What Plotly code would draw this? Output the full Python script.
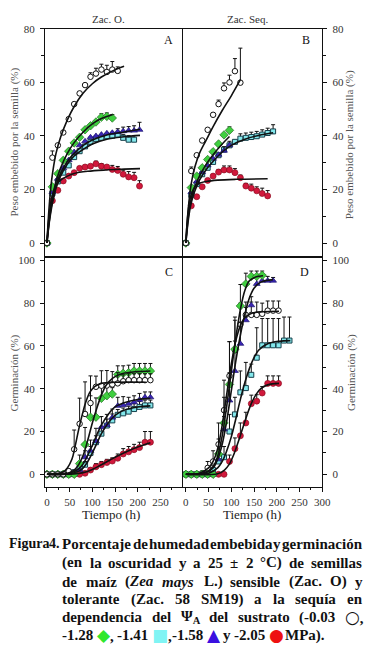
import re
import plotly.graph_objects as go

# The page body adds an 8px margin, so the figure is laid out in reference-pixel
# coordinates shifted by that offset.
OX, OY = 8, 8
FW, FH = 366, 638
def fx(x): return (x - OX) / FW
def fy(y): return 1 - (y - OY) / FH

# ---------------- DATA ----------------
# Panel A: imbibition, Zac. O.
a_t_circ = [0, 12, 24, 36, 48, 60, 72, 84, 96, 108, 120, 132, 144, 156]
a_circ = [0, 31.9, 36.5, 41.3, 46.3, 51.9, 55.9, 59, 62.1, 63.3, 64.8, 63.9, 64.8, 64.3]
a_circ_e = [0, 2.5, 0, 0, 0, 0, 0, 0, 1.5, 2, 2, 2.5, 3, 1.5]
a_t_green = [0, 12, 24, 36, 48, 60, 72, 84, 96, 108, 120, 132, 144]
a_green = [0, 21, 25.9, 30.9, 34.3, 37.4, 39.5, 42.3, 43.8, 45.2, 47, 47.3, 46.7]
a_green_e = [0, 0, 0, 0, 0, 0, 0, 0, 0, 0, 1.3, 1.3, 1.3]
a_t_cyan = [0, 12, 24, 36, 48, 60, 72, 84, 96, 108, 120, 132, 144, 156, 168, 180, 192]
a_cyan = [0, 18.5, 23, 26.3, 29, 32.1, 34.3, 36.1, 37.8, 38.9, 39.3, 39.9, 40.1, 40.5, 39.3, 38.6, 38.6]
a_cyan_e = [0, 0, 0, 0, 0, 0, 0, 0, 0, 0, 0, 0, 1.3, 1.3, 1.3, 1.5, 1.5]
a_t_blue = [0, 12, 24, 36, 48, 60, 72, 84, 96, 108, 120, 132, 144, 156, 168, 180, 192, 204]
a_blue = [0, 19, 24, 28, 31, 34, 36.5, 38, 39.5, 40, 40.5, 41, 41.2, 41.5, 41.8, 42, 42, 42.3]
a_blue_e = [0, 0, 0, 0, 0, 0, 0, 0, 0, 0, 0, 0, 0, 1.2, 1.5, 1.5, 1.8, 2.8]
a_t_red = [0, 12, 24, 36, 48, 60, 72, 84, 96, 108, 120, 132, 144, 156, 168, 180, 192, 204]
a_red = [0, 15.8, 19.7, 23.2, 25, 26.3, 27.9, 28.4, 28.7, 29.6, 28.7, 28.4, 27.5, 27.1, 25.7, 24.7, 24.4, 21.3]
a_red_e = [0, 0, 0, 0, 0, 0, 0, 0, 0, 1, 1, 0, 1.5, 1.5, 1.5, 2, 2, 2]

a_fit_circ_t = [0, 3, 6, 10, 15, 20, 30, 45, 60, 80, 100, 120, 145, 170]
a_fit_circ = [0, 9, 16, 23, 29, 33.5, 39.5, 46, 51, 56, 59.5, 62, 64.3, 66]
a_fit_green_t = [0, 5, 10, 15, 20, 30, 45, 60, 80, 100, 120, 145]
a_fit_green = [0, 9, 15, 19.5, 23, 28, 33.5, 37.5, 41.5, 44.5, 46.5, 48]
a_fit_blue_t = [0, 5, 10, 15, 20, 30, 45, 60, 80, 100, 130, 170, 205]
a_fit_blue = [0, 8, 14, 18, 21.5, 26, 30.5, 33.5, 36.5, 38.5, 40.3, 41.5, 42.5]
a_fit_cyan_t = [0, 5, 10, 15, 20, 30, 45, 60, 80, 100, 130, 170, 205]
a_fit_cyan = [0, 7.5, 13, 17, 20.5, 25, 29.5, 32.5, 35, 37, 38.7, 39.7, 40.2]
a_fit_red_t = [0, 3, 6, 10, 15, 20, 30, 45, 60, 90, 130, 170, 205]
a_fit_red = [0, 7, 12, 16.5, 19.5, 21.5, 23.5, 25, 26, 26.8, 27.3, 27.6, 27.8]

# Panel B: imbibition, Zac. Seq.
b_t_circ = [0, 12, 24, 36, 48, 60, 72, 84, 96, 108, 120]
b_circ = [0, 26.9, 32.8, 38.3, 42.3, 47.9, 51.9, 57.8, 60, 64.2, 59.9]
b_circ_e = [0, 1.5, 0, 0, 0, 0, 1.5, 2, 2.7, 4.7, 12.9]
b_t_green = [0, 12, 24, 36, 48, 60, 72, 84, 96]
b_green = [0, 20.7, 25, 28.1, 31.2, 34.1, 37, 40.4, 42.1]
b_green_e = [0, 0, 0, 0, 0, 0, 0, 0, 1.3]
b_t_blue = [0, 12, 24, 36, 48, 60, 72, 84, 96]
b_blue = [0, 19, 23, 26.5, 29, 31.5, 33, 34.5, 36.5]
b_blue_e = [0, 0, 0, 0, 0, 0, 0, 1.5, 1.5]
b_t_cyan = [0, 12, 24, 36, 48, 60, 72, 84, 96, 108, 120, 132, 144, 156, 168, 180, 192]
b_cyan = [0, 18, 22, 25.7, 28.1, 30.3, 32.8, 34.9, 36.5, 37.8, 39, 39.3, 39.6, 39.9, 40.5, 41.1, 41.7]
b_cyan_e = [0, 0, 0, 0, 0, 0, 0, 0, 0, 0, 1.8, 1.8, 1.8, 1.8, 1.8, 1.8, 2.5]
b_t_red = [0, 12, 24, 36, 48, 60, 72, 84, 96, 108, 120, 132, 144, 156, 168, 180]
b_red = [0, 13.9, 17.3, 21, 23.4, 25, 26.5, 27.3, 27.3, 26.3, 24.4, 21.3, 20.5, 19.5, 18.5, 17.6]
b_red_e = [0, 0, 0, 0, 0, 0, 1, 1.5, 1.5, 1.5, 1, 1, 1.5, 1.5, 2, 2]

b_fit_circ_t = [0, 3, 6, 10, 15, 20, 30, 45, 60, 80, 100, 120]
b_fit_circ = [0, 8, 14, 20, 25, 28.5, 33.5, 38.5, 43.5, 49.5, 55, 61]
b_fit_green_t = [0, 5, 10, 15, 20, 30, 45, 60, 80, 96]
b_fit_green = [0, 9, 15, 18.5, 21, 25, 29.5, 33, 37, 39.8]
b_fit_cyan_t = [0, 5, 10, 15, 20, 30, 45, 60, 80, 100, 130, 160, 192]
b_fit_cyan = [0, 8, 13.5, 17, 19.5, 23.5, 27.5, 30.5, 34, 36.5, 38.8, 40.2, 41.2]
b_fit_red_t = [0, 3, 6, 10, 15, 20, 30, 45, 70, 110, 180]
b_fit_red = [0, 8, 13, 17, 19.5, 21, 22.3, 23, 23.5, 23.8, 24]

# Panel C: germination, Zac. O.
c_t = [0, 12, 24, 36, 48, 60, 72, 84, 96, 108, 120, 132, 144, 156, 168, 180, 192, 204, 216, 228]
c_circ = [0, 0, 0, 0, 1.5, 11.7, 23.6, 28.2, 33.3, 40.9, 41.4, 41.5, 42, 42.5, 43.5, 44, 44, 44, 44, 44]
c_circ_e = [0, 0, 0, 0, 1, 9, 12, 15, 12.7, 5, 7, 7, 6, 5, 3, 3, 3, 3, 3, 3]
c_green = [0, 0, 0, 0, 0, 0, 5, 13.9, 26.7, 26.7, 35.5, 36.7, 37.5, 46.7, 47.2, 47.5, 48.3, 48.3, 48.3, 48.3]
c_green_e = [0, 0, 0, 0, 0, 0, 4, 8, 10, 9, 6, 5, 3, 4, 3.5, 3.5, 3.5, 3.5, 3.5, 3.5]
c_blue = [0, 0, 0, 0, 0, 0, 2, 8, 11, 15.5, 22, 23, 26.5, 32, 32.3, 33, 33.7, 34.8, 36, 36]
c_blue_e = [0, 0, 0, 0, 0, 0, 0, 3, 5, 6, 5, 5, 4, 4, 4, 3, 3, 3, 2.5, 2.5]
c_cyan = [0, 0, 0, 0, 0, 1, 3, 4.5, 10, 15, 19, 22.8, 25.2, 27.8, 28.5, 29.3, 30.5, 31.5, 32.2, 32.2]
c_cyan_e = [0, 0, 0, 0, 0, 0, 0, 1.5, 3, 3, 3, 3, 3, 2.5, 2.5, 2.5, 2.5, 2.5, 2.5, 2.5]
c_red = [0, 0, 0, 0, 0, 0, 0, 0.5, 2, 3.5, 4.5, 5.5, 6.2, 7.5, 9.5, 10.5, 11.5, 12.5, 15, 15]
c_red_e = [0, 0, 0, 0, 0, 0, 0, 0, 1, 1.5, 1.5, 1.5, 1.5, 2, 2.5, 2.5, 2.5, 2.5, 5, 5]

c_fit_circ_t = [0, 20, 35, 45, 55, 62, 70, 78, 86, 95, 105, 120, 150, 218]
c_fit_circ = [0, 0.3, 1, 3, 7, 13, 21, 28, 34, 38.5, 41, 42.5, 43, 43]
c_fit_green_t = [0, 40, 60, 70, 80, 90, 100, 110, 120, 130, 145, 165, 200, 228]
c_fit_green = [0, 0.3, 2, 4.5, 9, 16, 24, 31, 37, 41.5, 45, 47, 48, 48.3]
c_fit_blue_t = [0, 50, 70, 80, 90, 100, 110, 120, 135, 150, 170, 200, 228]
c_fit_blue = [0, 0.5, 2.5, 5, 9, 13.5, 18.5, 23, 28, 31.5, 33.5, 35, 35.5]
c_fit_cyan_t = [0, 50, 70, 80, 90, 100, 110, 120, 135, 150, 170, 200, 228]
c_fit_cyan = [0, 0.3, 1.5, 3, 6, 10, 14.5, 19, 24, 27.5, 30, 31.5, 32]
c_fit_red_t = [0, 60, 80, 100, 120, 140, 160, 180, 200, 228]
c_fit_red = [0, 0.2, 0.8, 2.3, 4.5, 6.8, 9, 11, 12.8, 14.8]

# Panel D: germination, Zac. Seq.
d_t_green = [0, 12, 24, 36, 48, 60, 72, 84, 96, 108, 120, 132, 144, 156, 168]
d_green = [0, 0, 0, 0, 0, 0, 9.5, 24, 42, 58.5, 78.7, 89, 92.5, 92.5, 93]
d_green_e = [0, 0, 0, 0, 0, 0, 7, 12, 20, 15, 10, 5, 2.5, 2.5, 2]
d_t_blue = [0, 12, 24, 36, 48, 60, 72, 84, 96, 108, 120, 132, 144, 156, 168, 180, 192]
d_blue = [0, 0, 0, 0, 0, 0, 7, 21, 34.5, 48.3, 61, 72, 79, 89, 90.5, 90.5, 90.5]
d_blue_e = [0, 0, 0, 0, 0, 0, 3, 6, 13, 14, 10, 6, 4, 3, 2, 2, 1.5]
d_t_circ = [0, 12, 24, 36, 48, 60, 72, 84, 96, 108, 120, 132, 144, 156, 168, 180, 192, 204]
d_circ = [0, 0, 0, 0.5, 3, 6, 14, 30, 46, 58, 70, 74.5, 74.5, 74.5, 75, 76.5, 76.5, 76.5]
d_circ_e = [0, 0, 0, 1, 3, 5, 10, 14, 16, 14, 10, 6, 6, 6, 5, 4.5, 4.5, 4.5]
d_t_cyan = [0, 12, 24, 36, 48, 60, 72, 84, 96, 108, 120, 132, 144, 156, 168, 180, 192, 204, 216, 228]
d_cyan = [0, 0, 0, 0, 0, 2, 6, 8, 20, 28, 38.3, 40.3, 46.5, 54.5, 60.3, 60.3, 60.3, 60.3, 62.5, 62.5]
d_cyan_e = [0, 0, 0, 0, 0, 2, 4, 5, 8, 8, 10, 12, 5, 14, 12.5, 12.5, 12.5, 12.5, 11, 11]
d_t_red = [0, 12, 24, 36, 48, 60, 72, 84, 96, 108, 120, 132, 144, 156, 168, 180, 192, 204]
d_red = [0, 0, 0, 0, 0, 0, 0, 0, 6, 12, 18, 24, 33, 34.2, 38, 42.5, 42.5, 42.5]
d_red_e = [0, 0, 0, 0, 0, 0, 0, 0, 3, 5, 6, 5, 4, 3, 3, 3.5, 3.5, 3.5]

d_fit_green_t = [0, 30, 50, 60, 70, 80, 90, 100, 110, 120, 130, 140, 155, 170]
d_fit_green = [0, 0.3, 1.5, 3.5, 8.5, 18, 32, 48, 64, 77, 86, 90.5, 92.3, 92.8]
d_fit_blue_t = [0, 40, 60, 70, 80, 90, 100, 110, 120, 130, 140, 150, 165, 192]
d_fit_blue = [0, 0.5, 3, 7, 14, 25, 39, 53, 65, 75, 82.5, 87, 89.8, 91]
d_fit_circ_t = [0, 30, 50, 60, 70, 80, 90, 100, 110, 120, 130, 145, 170, 205]
d_fit_circ = [0, 0.5, 3, 6, 12, 23, 37.5, 51.5, 62.5, 69.5, 73.3, 75.3, 76, 76.2]
d_fit_cyan_t = [0, 50, 70, 80, 90, 100, 110, 120, 130, 140, 150, 160, 180, 205, 230]
d_fit_cyan = [0, 0.5, 3, 6, 11, 17.5, 26, 35, 43, 49.5, 54.5, 58, 61, 62.2, 62.5]
d_fit_red_t = [0, 70, 85, 95, 105, 115, 125, 135, 145, 155, 165, 180, 205]
d_fit_red = [0, 0.3, 2, 4.5, 9, 15, 21.5, 28, 33.5, 37.5, 40, 41.8, 42.5]

# ---------------- STYLES ----------------
STY = {
    "circ":  dict(symbol="circle", size=5.5, color="white", line=dict(color="#111", width=1)),
    "green": dict(symbol="diamond", size=6.5, color="#3fcf3f", line=dict(color="#1f6f1f", width=0.7)),
    "cyan":  dict(symbol="square", size=5, color="#84e8ec", line=dict(color="#163f4a", width=1)),
    "blue":  dict(symbol="triangle-up", size=6, color="#3b25b5", line=dict(color="#1b1470", width=0.7)),
    "red":   dict(symbol="circle", size=6, color="#d1183c", line=dict(color="#8c0b20", width=0.7)),
}

fig = go.Figure()

def pts(ax, t, v, e, key):
    fig.add_trace(go.Scatter(
        x=t, y=v, mode="markers", marker=STY[key], xaxis="x" + ax, yaxis="y" + ax,
        showlegend=False, hoverinfo="skip",
        error_y=dict(type="data", symmetric=False, array=e, arrayminus=[0] * len(e),
                     color="#111", thickness=1, width=2)))

def fit(ax, t, v):
    fig.add_trace(go.Scatter(
        x=t, y=v, mode="lines", line=dict(color="#111", width=1.6, shape="spline", smoothing=1.0),
        xaxis="x" + ax, yaxis="y" + ax, showlegend=False, hoverinfo="skip"))

# Panel A
pts("", a_t_red, a_red, a_red_e, "red")
pts("", a_t_cyan, a_cyan, a_cyan_e, "cyan")
pts("", a_t_blue, a_blue, a_blue_e, "blue")
pts("", a_t_green, a_green, a_green_e, "green")
pts("", a_t_circ, a_circ, a_circ_e, "circ")
for t, v in [(a_fit_circ_t, a_fit_circ), (a_fit_green_t, a_fit_green), (a_fit_blue_t, a_fit_blue),
             (a_fit_cyan_t, a_fit_cyan), (a_fit_red_t, a_fit_red)]:
    fit("", t, v)

# Panel B
pts("2", b_t_red, b_red, b_red_e, "red")
pts("2", b_t_cyan, b_cyan, b_cyan_e, "cyan")
pts("2", b_t_blue, b_blue, b_blue_e, "blue")
pts("2", b_t_green, b_green, b_green_e, "green")
pts("2", b_t_circ, b_circ, b_circ_e, "circ")
for t, v in [(b_fit_circ_t, b_fit_circ), (b_fit_green_t, b_fit_green), (b_fit_cyan_t, b_fit_cyan),
             (b_fit_red_t, b_fit_red)]:
    fit("2", t, v)

# Panel C
pts("3", c_t, c_red, c_red_e, "red")
pts("3", c_t, c_cyan, c_cyan_e, "cyan")
pts("3", c_t, c_blue, c_blue_e, "blue")
pts("3", c_t, c_green, c_green_e, "green")
pts("3", c_t, c_circ, c_circ_e, "circ")
for t, v in [(c_fit_circ_t, c_fit_circ), (c_fit_green_t, c_fit_green), (c_fit_blue_t, c_fit_blue),
             (c_fit_cyan_t, c_fit_cyan), (c_fit_red_t, c_fit_red)]:
    fit("3", t, v)

# Panel D
pts("4", d_t_red, d_red, d_red_e, "red")
pts("4", d_t_cyan, d_cyan, d_cyan_e, "cyan")
pts("4", d_t_circ, d_circ, d_circ_e, "circ")
pts("4", d_t_blue, d_blue, d_blue_e, "blue")
pts("4", d_t_green, d_green, d_green_e, "green")
for t, v in [(d_fit_green_t, d_fit_green), (d_fit_blue_t, d_fit_blue), (d_fit_circ_t, d_fit_circ),
             (d_fit_cyan_t, d_fit_cyan), (d_fit_red_t, d_fit_red)]:
    fit("4", t, v)

# ---------------- LAYOUT ----------------
SERIF = "Liberation Serif"
TF = dict(family=SERIF, size=11, color="#333")

def xax(dom, rng, labels):
    d = dict(domain=dom, range=rng, showline=True, mirror=True, linecolor="#111", linewidth=1,
             showgrid=False, zeroline=False, fixedrange=True)
    if labels:
        d.update(ticks="outside", ticklen=4, tickwidth=1, tickcolor="#111", dtick=50, tick0=0,
                 tickfont=TF, ticklabelstandoff=1,
                 minor=dict(ticks="outside", ticklen=2.5, dtick=25, tick0=0, tickcolor="#111"))
    else:
        d.update(showticklabels=False, ticks="")
    return d

def yax(dom, rng, dt, side, anchor):
    return dict(domain=dom, range=rng, side=side, anchor=anchor, showline=True, mirror=True,
                linecolor="#111", linewidth=1, showgrid=False, zeroline=False, fixedrange=True,
                ticks="outside", ticklen=4, tickwidth=1, tickcolor="#111", dtick=dt, tick0=0,
                tickfont=TF, ticklabelstandoff=3,
                minor=dict(ticks="outside", ticklen=2.5, dtick=dt / 2, tick0=0, tickcolor="#111"))

XL = [fx(45), fx(185.5)]
XR = [fx(187), fx(330)]
YT = [fy(253), fy(23)]
YB = [fy(485), fy(253)]
RL = [-4.3, 296.8]
RR = [-6, 300]

annotations = []
def ann(x, y, text, size=11, angle=0, color="#333", xanchor="center"):
    annotations.append(dict(x=fx(x), y=fy(y), xref="paper", yref="paper", text=text, showarrow=False,
                            textangle=angle, xanchor=xanchor, yanchor="middle",
                            font=dict(family=SERIF, size=size, color=color)))

ann(110, 13, "Zac. O.")
ann(253, 13, "Zac. Seq.")
ann(172, 34, "A", 12, color="#111")
ann(313, 34, "B", 12, color="#111")
ann(172, 268, "C", 12, color="#111")
ann(312, 268, "D", 12, color="#111")
ann(14, 137, "Peso embebido por la semilla (%)", 11, -90, "#555")
ann(358, 140, "Peso embebido por la semilla (%)", 11, -90, "#555")
ann(14, 370, "Germinación (%)", 11, -90, "#555")
ann(360, 370, "Germinación (%)", 11, -90, "#555")
ann(113, 513, "Tiempo (h)", 13, color="#222")
ann(258, 513, "Tiempo (h)", 13, color="#222")

# ---- caption (justified with Times-Bold metrics) ----
SYMSZ = 17
TBW = {' ': 250, '(': 333, ')': 333, ',': 250, '-': 333, '.': 250, '±': 570, '°': 400,
       'A': 722, 'C': 722, 'F': 611, 'L': 667, 'M': 944, 'O': 778, 'P': 611, 'S': 556, 'Z': 667,
       'a': 500, 'b': 556, 'c': 444, 'd': 556, 'e': 444, 'g': 500, 'h': 556, 'i': 278, 'j': 333,
       'l': 278, 'm': 833, 'n': 556, 'o': 500, 'p': 556, 'q': 556, 'r': 444, 's': 389, 't': 333,
       'u': 556, 'y': 500, 'z': 444, 'í': 278, 'ó': 500, 'á': 500, 'Ψ': 800,
       '◆': 870, '■': 870, '▲': 870, '●': 870, '○': 870}
for dch in "0123456789":
    TBW[dch] = 500
KW = 1.03  # small safety factor for rendered widths

def width_em(html):
    sub = re.findall(r"<sub>(.*?)</sub>", html)
    plain = re.sub(r"<sub>.*?</sub>", "", html)
    plain = re.sub(r"<[^>]+>", "", plain)
    w = sum(TBW.get(c, 500) for c in plain)
    w += sum(0.65 * TBW.get(c, 600) for s in sub for c in s)
    return KW * w / 1000.0

def cap_line(words, y, x0, x1, size=15):
    ws = [width_em(w) * size for w in words]
    gap = (x1 - x0 - sum(ws)) / max(len(words) - 1, 1)
    x = x0
    for w, wd in zip(words, ws):
        annotations.append(dict(x=fx(x), y=fy(y), xref="paper", yref="paper", text="<b>" + w + "</b>",
                                showarrow=False, xanchor="left", yanchor="middle", borderpad=0,
                                borderwidth=0,
                                font=dict(family=SERIF, size=size, color="#111")))
        x += wd + gap

def sym(ch, col):
    return ("<span style=\"color:%s;font-family:DejaVu Sans;font-size:%dpx\">%s</span>"
            % (col, SYMSZ, ch))

cap_line(["Figura", "4."], 543, 8, 60, 14)
cap_line(["Porcentaje", "de", "humedad", "embebida", "y", "germinación"], 543, 63, 371)
cap_line(["(en", "la", "oscuridad", "y", "a", "25", "±", "2", "°C)", "de", "semillas"], 562, 63, 371)
cap_line(["de", "maíz", "(<i>Zea</i>", "<i>mays</i>", "L.)", "sensible", "(Zac.", "O)", "y"], 581, 63, 371)
cap_line(["tolerante", "(Zac.", "58", "SM19)", "a", "la", "sequía", "en"], 599, 63, 371)
cap_line(["dependencia", "del", "Ψ<sub>A</sub>", "del", "sustrato", "(-0.03", sym("○", "#111") + ","],
         617, 63, 371)
cap_line(["-1.28", sym("◆", "#2ee82e") + ",", "-1.41", sym("■", "#80f4f4") + ",", "-1.58",
          sym("▲", "#3a10e0"), "y", "-2.05", sym("●", "#ee1111"), "MPa)."], 635, 63, 333)

fig.update_layout(
    width=FW, height=FH, margin=dict(l=0, r=0, t=0, b=0),
    paper_bgcolor="white", plot_bgcolor="white",
    xaxis=dict(**xax(XL, RL, False), anchor="y"),
    yaxis=yax(YT, [-5.1, 80], 20, "left", "x"),
    xaxis2=dict(**xax(XR, RR, False), anchor="y2"),
    yaxis2=yax(YT, [-5.1, 80], 20, "right", "x2"),
    xaxis3=dict(**xax(XL, RL, True), anchor="y3"),
    yaxis3=yax(YB, [-5.7, 101.7], 20, "left", "x3"),
    xaxis4=dict(**xax(XR, RR, True), anchor="y4"),
    yaxis4=yax(YB, [-5.7, 101.7], 20, "right", "x4"),
    annotations=annotations,
    showlegend=False,
)

fig.write_html("out.html")
